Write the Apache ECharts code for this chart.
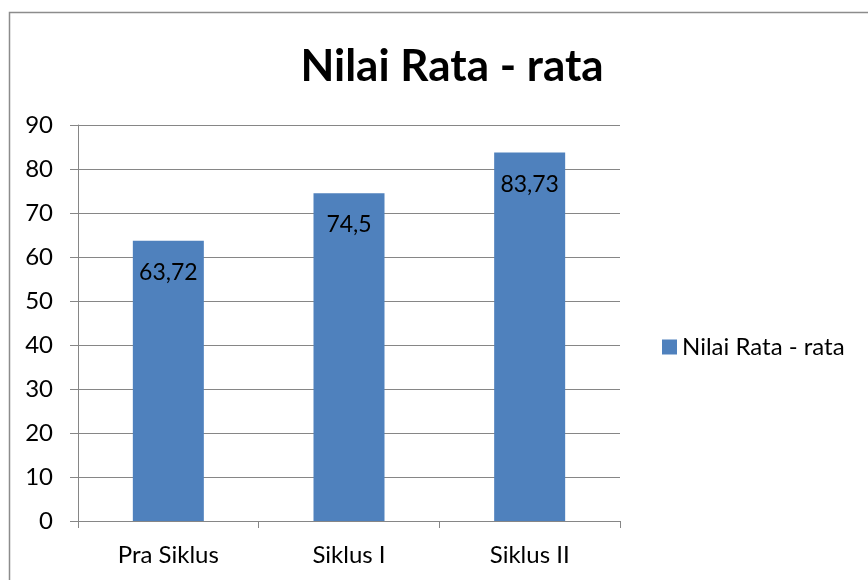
<!DOCTYPE html>
<html><head><meta charset="utf-8">
<script src="https://cdn.jsdelivr.net/npm/echarts@6/dist/echarts.min.js"></script>
<style>html,body{margin:0;padding:0;background:#fff}#c{width:868px;height:580px}</style>
</head><body><div id="c"></div>
<script>
const categories = ['Pra Siklus', 'Siklus I', 'Siklus II'];
const values = [63.72, 74.5, 83.73];
const labels = ['63,72', '74,5', '83,73'];
const seriesName = 'Nilai Rata - rata';
const titleText = 'Nilai Rata - rata';

const FONT = 'Lato, "Open Sans", sans-serif';
const chart = echarts.init(document.getElementById('c'), null, {renderer: 'canvas'});
chart.setOption({
  animation: false,
  backgroundColor: '#fff',
  graphic: [{
    type: 'rect', shape: {x: 9.5, y: 12.5, width: 1000, height: 1000},
    style: {fill: 'none', stroke: '#8c8c8c', lineWidth: 1.5}, silent: true
  }],
  title: {
    text: titleText, left: 447, top: 40, textAlign: 'center',
    textStyle: {fontFamily: FONT, fontWeight: 'bold', fontSize: 44, color: '#000'}
  },
  legend: {
    data: [seriesName], left: 657, top: 330, orient: 'vertical',
    itemWidth: 15, itemHeight: 15, itemGap: 6, icon: 'rect',
    textStyle: {fontFamily: FONT, fontSize: 24, color: '#000', padding: [0,0,0,0]}
  },
  grid: {left: 78, right: 248, top: 125, bottom: 59, containLabel: false},
  xAxis: {
    type: 'category', data: categories,
    axisLine: {lineStyle: {color: '#868686', width: 1}},
    axisTick: {show: true, length: 7, alignWithLabel: false, lineStyle: {color: '#868686'}},
    axisLabel: {fontFamily: FONT, fontSize: 24, color: '#000', margin: 22}
  },
  yAxis: {
    type: 'value', min: 0, max: 90, interval: 10,
    axisLine: {show: true, lineStyle: {color: '#868686', width: 1}},
    axisTick: {show: true, length: 8, lineStyle: {color: '#868686'}},
    axisLabel: {fontFamily: FONT, fontSize: 24, color: '#000', margin: 25},
    splitLine: {show: true, lineStyle: {color: '#868686', width: 1}}
  },
  series: [{
    name: seriesName, type: 'bar', data: values, barWidth: 71,
    itemStyle: {color: '#4F81BD'},
    label: {
      show: true, position: 'insideTop', distance: 20,
      formatter: p => labels[p.dataIndex],
      fontFamily: FONT, fontSize: 23, color: '#000'
    }
  }]
});
</script></body></html>
